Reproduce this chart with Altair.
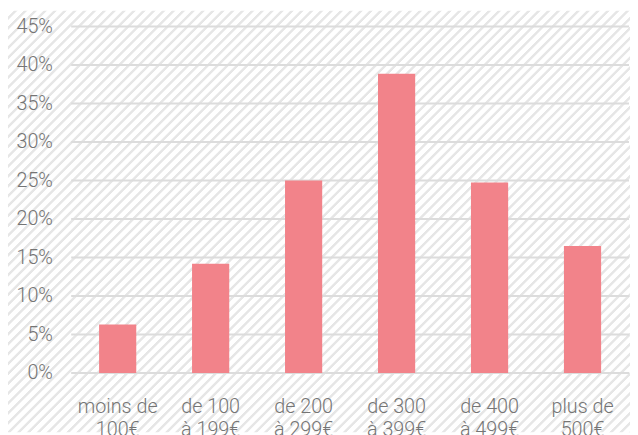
import altair as alt
import pandas as pd

categories = ["moins de\n100€", "de 100\nà 199€", "de 200\nà 299€",
              "de 300\nà 399€", "de 400\nà 499€", "plus de\n500€"]
values = [6.3, 14.2, 25.0, 38.85, 24.75, 16.5]
y_ticks = [0, 5, 10, 15, 20, 25, 30, 35, 40, 45]

df = pd.DataFrame({"cat": categories, "val": values})
grid_df = pd.DataFrame({"t": y_ticks})
bg_df = pd.DataFrame({"a": [0]})

# Layout (SVG pixels)
PW, PH = 565, 351
PAD = {"left": 64, "top": 16, "right": 1, "bottom": 60}
W = PW + PAD["left"] + PAD["right"]
H = PH + PAD["top"] + PAD["bottom"]

# diagonal hatch background as a striped linear gradient
k = (W + H) / (W * W + H * H)
period = 10.0 / (W + H)
stops = []
n = int(1 / period) + 2
white, gray = "#ffffff", "#e6e6e6"
for i in range(n):
    base = i * period
    for off, col in [(0.0, white), (0.55, white), (0.65, gray), (0.9, gray), (1.0, white)]:
        o = base + off * period
        if o <= 1.0:
            stops.append(alt.GradientStop(offset=o, color=col))
grad = alt.LinearGradient(gradient="linear", stops=stops,
                          x1=0, y1=0, x2=W * k, y2=H * k)

bg = alt.Chart(bg_df).mark_rect(fill=grad, strokeWidth=0).encode(
    x=alt.value(-PAD["left"]), x2=alt.value(PW + PAD["right"]),
    y=alt.value(-PAD["top"]), y2=alt.value(PH + PAD["bottom"]),
)

yscale = alt.Scale(domain=[0, 45], nice=False)
yaxis = alt.Axis(title=None, values=y_ticks, grid=False, domain=False,
                 ticks=False, labelExpr="datum.value + '%'",
                 labelPadding=19, zindex=1)

grid = alt.Chart(grid_df).mark_rule(color="#dcdcdc", strokeWidth=2).encode(
    y=alt.Y("t:Q", scale=yscale, axis=yaxis)
)

bars = alt.Chart(df).mark_bar(color="#f2838a").encode(
    x=alt.X("cat:N", sort=categories,
            scale=alt.Scale(paddingInner=0.6, paddingOuter=0.3),
            axis=alt.Axis(title=None, labelAngle=0, domain=False, ticks=False,
                          labelExpr="split(datum.label, '\\n')",
                          labelPadding=24, labelBaseline="top",
                          labelLineHeight=23, zindex=1)),
    y=alt.Y("val:Q", scale=yscale, axis=yaxis),
)

chart = alt.layer(bg, grid, bars).properties(
    width=PW, height=PH,
    autosize=alt.AutoSizeParams(type="none"),
    padding=PAD,
).configure_axis(
    labelFont="Roboto", labelFontSize=20, labelFontWeight=300,
    labelColor="#757575",
).configure_view(stroke=None)

chart.save("out.html", embed_options={"renderer": "svg", "actions": False})
